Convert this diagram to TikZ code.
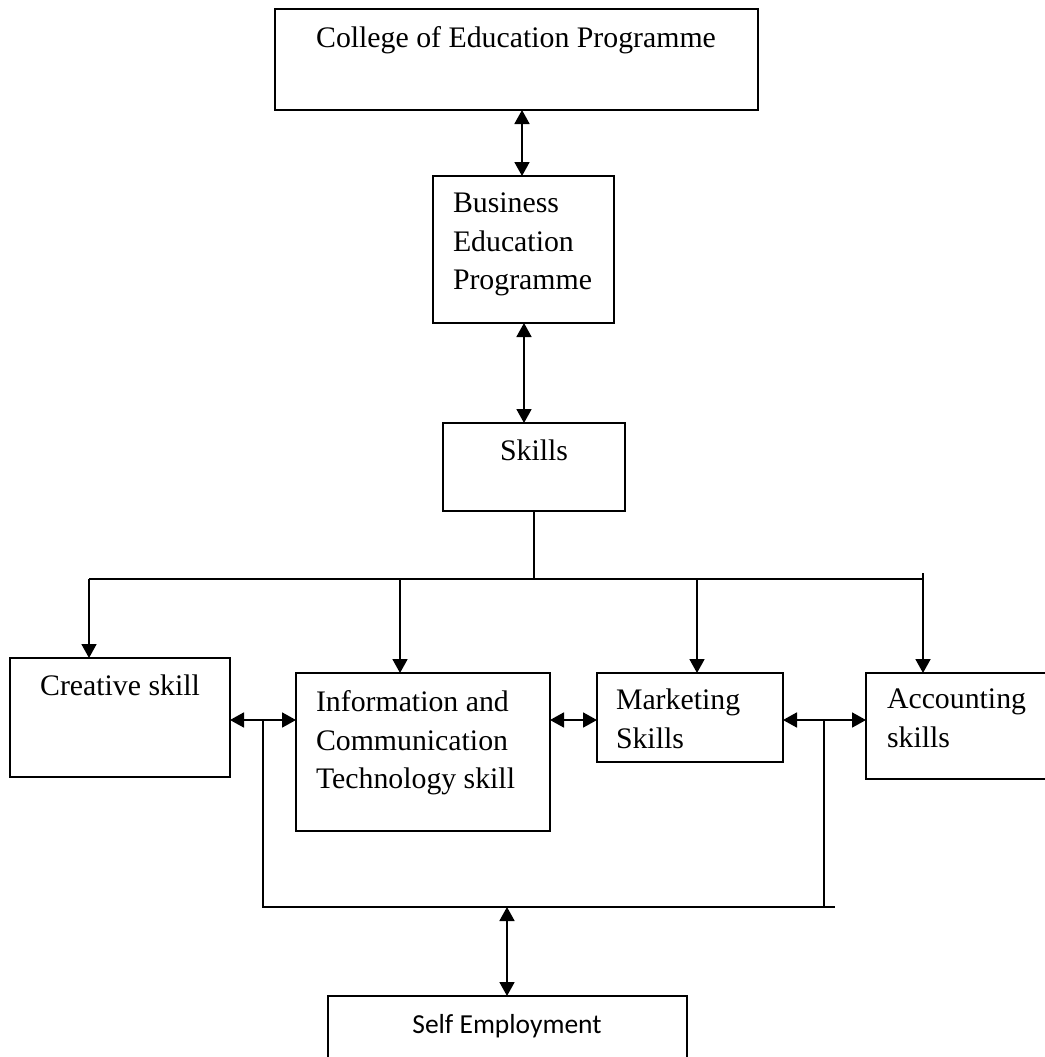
\documentclass[tikz,border=0pt]{standalone}
\usepackage{fontspec}
\setmainfont{Liberation Serif}
\newfontfamily\carl{Carlito}
\usetikzlibrary{arrows.meta}
\tikzset{
  box/.style={draw, line width=1.5pt, anchor=north west, inner sep=0pt, outer sep=0pt},
  txt/.style={inner sep=0pt, outer sep=0pt, font={\fontsize{29.8}{38.5}\selectfont}, align=left},
  conn/.style={line width=1.8pt},
  arr/.style={conn, -{Triangle[length=14pt,width=15pt]}},
  darr/.style={conn, {Triangle[length=14pt,width=15pt]}-{Triangle[length=14pt,width=15pt]}},
}
\begin{document}
\begin{tikzpicture}[x=1pt,y=-1pt]
\useasboundingbox (0,0) rectangle (1044,1057);
% boxes
\node[box, minimum width=483pt, minimum height=101pt] (coll) at (275,9) {};
\node[box, minimum width=181pt, minimum height=147pt] (bus) at (433,176) {};
\node[box, minimum width=182pt, minimum height=88pt] (skl) at (443,423) {};
\node[box, minimum width=220pt, minimum height=119pt] (cre) at (10,658) {};
\node[box, minimum width=254pt, minimum height=158pt] (ict) at (296,673) {};
\node[box, minimum width=186pt, minimum height=89pt] (mkt) at (597,673) {};
\node[box, minimum width=200pt, minimum height=106pt] (acc) at (866,673) {};
\node[box, minimum width=359pt, minimum height=80pt] (self) at (328,996) {};
% texts
\node[txt, anchor=base] (collT) at (516,48) {College of Education Programme};
\node[txt, anchor=north west] (busT) at (453,193) {Business\\Education\\Programme};
\node[txt, anchor=base] (sklT) at (534,460) {Skills};
\node[txt, anchor=base] (creT) at (120,695) {Creative skill};
\node[txt, anchor=north west] (ictT) at (316,691) {Information and\\Communication\\Technology skill};
\node[txt, anchor=north west] (mktT) at (616,689) {Marketing\\Skills};
\node[txt, anchor=north west] (accT) at (887,689) {Accounting\\skills};
\node[inner sep=0pt, anchor=base, font={\carl\fontsize{27.5}{32}\selectfont}] (selfT) at (507,1033) {Self Employment};
% coordinates
\coordinate (c1) at (522,110);
\coordinate (c2) at (524,323);
\coordinate (stem) at (534,579);
\coordinate (hl) at (89,579);
\coordinate (hr) at (923,579);
\coordinate (tick) at (923,573);
\coordinate (ictD) at (400,579);
\coordinate (mktD) at (697,579);
\coordinate (jl) at (263,720);
\coordinate (jr) at (824,720);
\coordinate (bl) at (263,907);
\coordinate (br) at (824,907);
\coordinate (bend) at (835,907);
\coordinate (bm) at (507,907);
% top connectors
\draw[darr] (c1) -- (c1 |- bus.north);
\draw[darr] (c2) -- (c2 |- skl.north);
\draw[conn] (skl.south -| stem) -- (stem);
\draw[conn] (hl) -- (hr);
\draw[conn] (tick) -- (hr);
\draw[arr] (hl) -- (hl |- cre.north);
\draw[arr] (ictD) -- (ictD |- ict.north);
\draw[arr] (mktD) -- (mktD |- mkt.north);
\draw[arr] (hr) -- (hr |- acc.north);
% side connectors
\draw[darr] (cre.east |- jl) -- (ict.west |- jl);
\draw[darr] (ict.east |- jl) -- (mkt.west |- jl);
\draw[darr] (mkt.east |- jr) -- (acc.west |- jr);
\draw[conn, line width=1.5pt] (jl) -- (bl) -- (bend);
\draw[conn, line width=1.5pt] (jr) -- (br);
\draw[darr] (bm) -- (bm |- self.north);
\end{tikzpicture}
\end{document}
